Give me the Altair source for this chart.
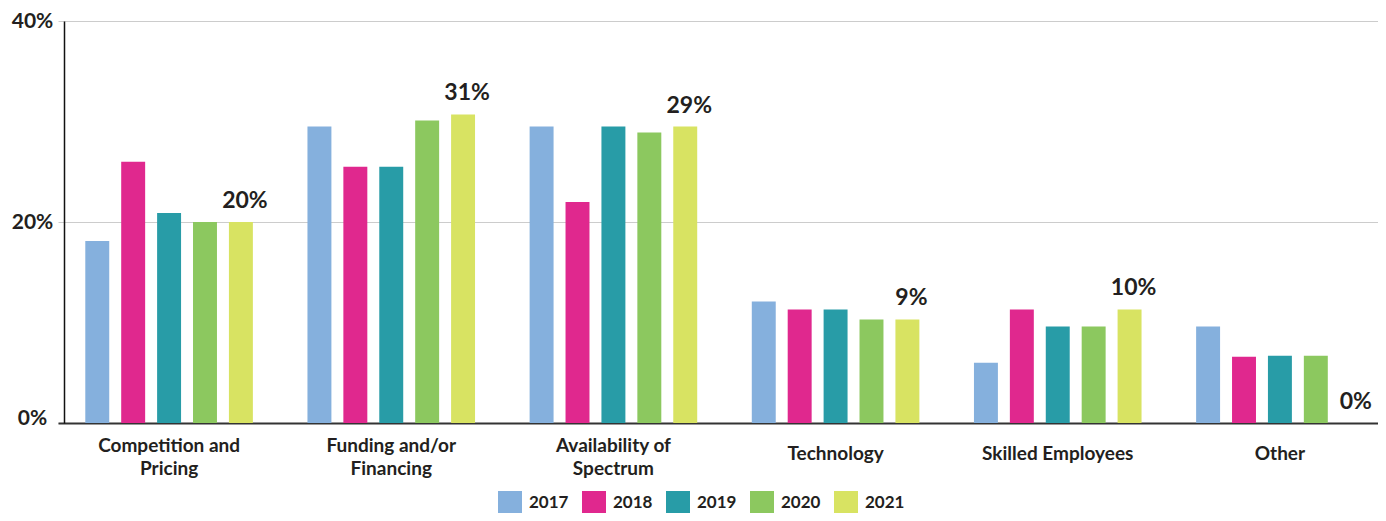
import altair as alt
import pandas as pd

categories = ["Competition and\nPricing", "Funding and/or\nFinancing", "Availability of\nSpectrum",
              "Technology", "Skilled Employees", "Other"]
years = ["2017", "2018", "2019", "2020", "2021"]
v2017 = [18.1, 29.5, 29.5, 12.1, 6.0, 9.6]
v2018 = [26.0, 25.5, 22.0, 11.3, 11.3, 6.6]
v2019 = [20.9, 25.5, 29.5, 11.3, 9.6, 6.7]
v2020 = [20.0, 30.1, 28.9, 10.3, 9.6, 6.7]
v2021 = [20.0, 30.7, 29.5, 10.3, 11.3, 0.0]
labels2021 = ["20%", "31%", "29%", "9%", "10%", "0%"]
colors = ["#85B0DD", "#E0288E", "#289CA7", "#8CC85F", "#D8E362"]

series = [v2017, v2018, v2019, v2020, v2021]
rows = []
for yi, (yr, vals) in enumerate(zip(years, series)):
    for ci, cat in enumerate(categories):
        rows.append({"category": cat, "year": yr, "value": vals[ci],
                     "label": labels2021[ci] if yr == "2021" else ""})
df = pd.DataFrame(rows)

FONT = "Lato"
TXT = "#231f20"

x = alt.X("category:N", sort=categories,
          scale=alt.Scale(paddingInner=0, paddingOuter=0, range=[-6, 1327]),
          axis=alt.Axis(title=None, labelExpr="split(datum.label, '\\n')", labelAngle=0,
                        labelFontSize=19, labelFontWeight="bold", labelColor=TXT, labelFont=FONT,
                        ticks=False,
                        labelPadding={"condition": {"test": "indexof(datum.value, '\\n') >= 0", "value": 22},
                                      "value": 30},
                        labelBaseline="middle", labelLineHeight=23,
                        domainColor="#333333", domainWidth=2, grid=False))
xo = alt.XOffset("year:N", sort=years,
                 scale=alt.Scale(paddingInner=0.333, paddingOuter=0.76))
y = alt.Y("value:Q", scale=alt.Scale(domain=[0, 40]),
          axis=alt.Axis(values=[0, 20, 40], labelExpr="datum.value + '%'", title=None,
                        ticks=False, domainColor="#111111", domainWidth=1.5,
                        gridColor="#cccccc", gridWidth=1, labelFontSize=21,
                        labelOffset={"condition": {"test": "datum.value == 0", "value": -5}, "value": 0},
                        labelAlign="center",
                        labelFontWeight="bold", labelColor=TXT, labelFont=FONT, labelPadding=32))

bars = alt.Chart(df).mark_bar().encode(
    x=x, xOffset=xo, y=y,
    color=alt.Color("year:N", sort=years, scale=alt.Scale(domain=years, range=colors),
                    legend=alt.Legend(title=None, orient="none", legendX=434, legendY=470,
                                      direction="horizontal", symbolType="square",
                                      symbolSize=576, symbolStrokeWidth=0, symbolOpacity=1,
                                      labelFontSize=17, labelFontWeight="bold", labelColor=TXT,
                                      labelFont=FONT, labelOffset=7, columnPadding=13, padding=0)),
)

text = alt.Chart(df).transform_filter("datum.year == '2021'").mark_text(
    font=FONT, fontSize=23, fontWeight="bold", color=TXT, baseline="middle", dy=-21, dx=4
).encode(x=alt.X("category:N", sort=categories), xOffset=alt.XOffset("year:N", sort=years),
         y="value:Q", text="label:N")

chart = alt.layer(bars, text).properties(
    width=1314, height=402,
    autosize=alt.AutoSizeParams(type="none"),
    padding={"left": 56, "top": 13, "right": 0, "bottom": 90},
).configure_view(stroke=None)

chart.save("out.html", embed_options={"renderer": "svg", "actions": False})
